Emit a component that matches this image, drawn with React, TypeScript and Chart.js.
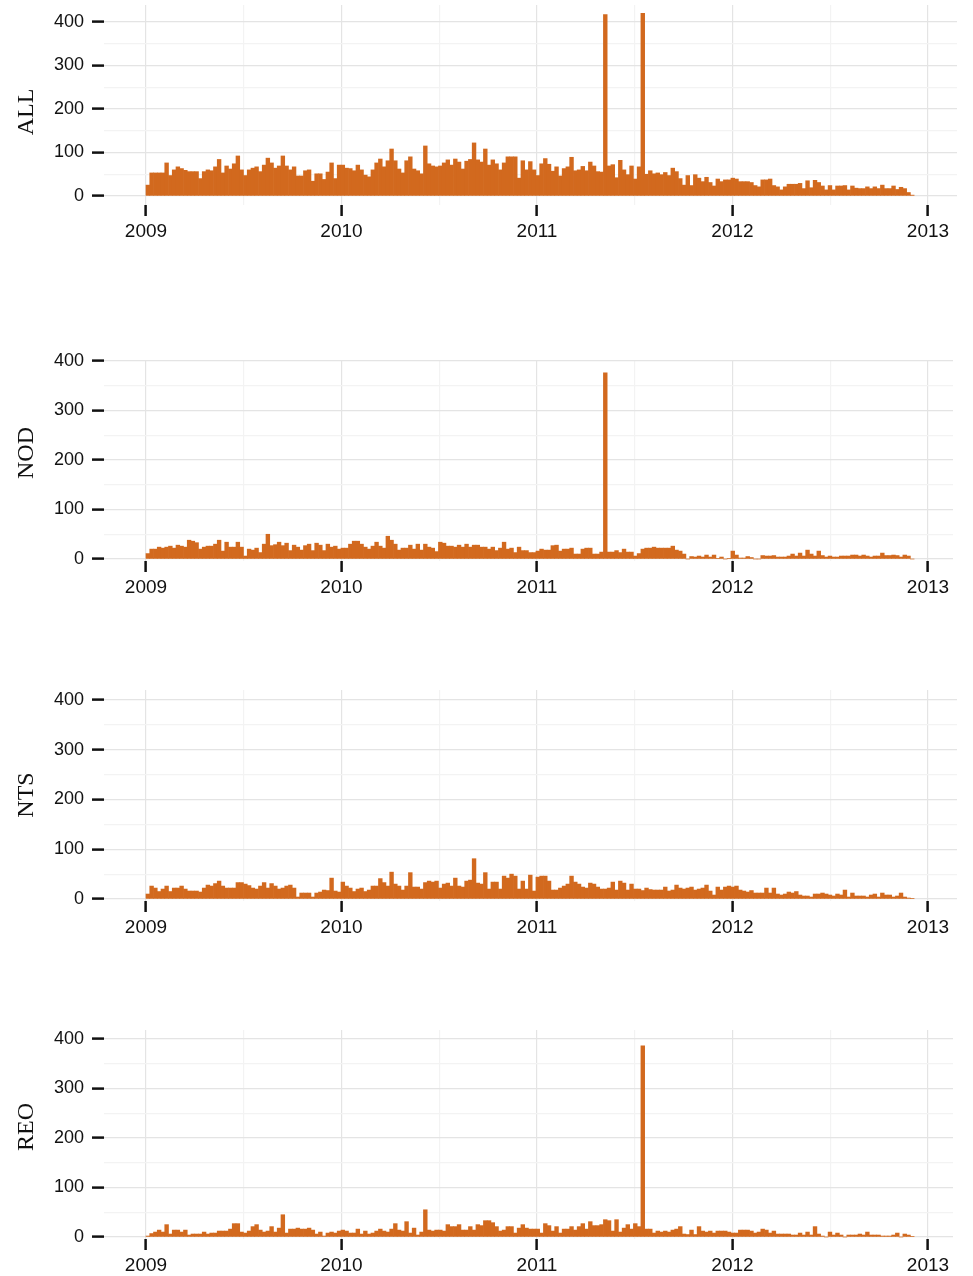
import React, { useEffect, useRef } from 'react';
import { Chart, registerables } from 'chart.js';

Chart.register(...registerables);

// ---------------- data ----------------
const firstWeekStart = '2009-01-01';
const binDays = 7;

const allCounts = [
  25, 53, 53, 53, 53, 76, 47, 60, 67, 63, 59, 56, 56, 56, 40, 56, 60, 58, 67, 84, 53, 69, 62, 74, 92, 60, 47, 60, 64, 67, 56, 71, 87, 76, 64, 69, 92, 69, 60, 67, 46, 46, 58, 60, 34, 51, 51, 38, 55, 76, 40, 71,
  71, 64, 63, 58, 71, 60, 48, 44, 60, 76, 85, 67, 81, 108, 81, 62, 53, 81, 90, 62, 58, 51, 115, 74, 69, 67, 69, 76, 83, 71, 85, 78, 62, 80, 84, 122, 83, 78, 108, 71, 83, 74, 60, 76, 90, 90, 90, 41,
  81, 60, 79, 60, 47, 74, 86, 73, 57, 67, 46, 63, 67, 89, 58, 60, 68, 58, 78, 69, 56, 55, 417, 69, 72, 42, 82, 60, 49, 69, 39, 67, 420, 50, 58, 51, 53, 49, 54, 47, 64, 56, 40, 25, 47, 24, 49, 41, 33, 43,
  31, 23, 39, 33, 37, 37, 41, 39, 33, 33, 33, 31, 24, 21, 37, 37, 39, 24, 21, 14, 21, 27, 27, 27, 29, 17, 35, 19, 36, 31, 23, 14, 24, 14, 23, 23, 24, 14, 23, 18, 17, 17, 21, 17, 21, 17, 25, 17, 17, 23,
  15, 20, 17, 8, 2,
];

const nodCounts = [
  11, 20, 20, 24, 22, 24, 26, 22, 28, 26, 24, 38, 36, 33, 20, 24, 26, 26, 30, 38, 16, 34, 24, 24, 34, 24, 6, 20, 18, 22,
  13, 30, 50, 27, 29, 34, 27, 32, 17, 28, 24, 18, 27, 30, 17, 32, 28, 17, 30, 24, 26, 20, 22, 22, 30, 36, 36, 30, 24, 20,
  26, 34, 26, 22, 46, 38, 30, 18, 22, 22, 28, 20, 30, 18, 30, 24, 22, 15, 34, 32, 26, 26, 24, 28, 24, 30, 24, 28, 28, 24,
  24, 20, 24, 17, 22, 34, 20, 22, 13, 24, 17, 17, 13, 13,
  16, 20, 18, 18, 27, 28, 16, 20, 20, 22, 10, 10, 20, 22, 22, 10, 10, 14,
  376,
  14, 14, 17, 13, 20, 14, 14, 6, 11, 20, 22, 22, 24, 22, 22, 22, 22, 26, 18, 16, 10, 0, 5, 4, 6, 4, 8, 4, 8, 1, 4, 0, 1,
  16, 8, 2, 2, 5, 3, 0, 0, 7, 6, 6, 7, 4, 4, 4, 6, 10, 6, 12, 6, 18, 10, 6, 16, 7, 4, 6, 4, 4, 6, 6, 6, 8, 8, 6, 8, 6, 4, 6, 6,
  12, 7, 7, 8, 7, 4, 8, 6, 0,
];

const ntsCounts = [
  10, 26, 22, 15, 20, 26, 15, 22, 22, 26, 20, 16, 16, 16, 14, 22, 28, 26, 31, 36, 26, 22, 22, 22, 33, 33, 30, 27, 22, 20,
  26, 33, 22, 31, 26, 20, 22, 26, 28, 22, 4, 12, 12, 12, 4, 12, 14, 18, 17, 42, 16, 14,
  34, 26, 22, 15, 20, 22, 15, 18, 26, 26, 41, 33, 26, 54, 30, 26, 18, 26, 53, 24, 24, 20, 33, 36, 34, 36, 22, 30, 32, 26,
  42, 26, 24, 36, 38, 81, 32, 30, 53, 20, 34, 34, 20, 46, 42, 50, 46, 20, 36, 20, 48, 16,
  44, 46, 46, 36, 18, 18, 22, 26, 30, 46, 34, 30, 24, 22, 32, 30, 24, 20, 20, 22, 34, 18, 36, 32, 18, 30, 20, 20, 17, 22, 19,
  18, 18, 18, 24, 16, 18, 28, 22, 20, 22, 24, 18, 20, 22, 28, 16, 8, 24, 18, 24, 26,
  24, 26, 18, 16, 14, 17, 12, 12, 12, 22, 12, 22, 10, 8, 10, 14, 12, 15, 8, 6, 6, 4, 10, 10, 12, 10, 8, 6, 10, 8, 18,
  4, 12, 6, 6, 6, 4, 8, 10, 4, 12, 8, 8, 4, 6, 12, 4, 2, 1,
];

const reoCounts = [
  2, 7, 10, 14, 10, 25, 6, 14, 14, 10, 14, 4, 6, 6, 6, 10, 6, 8, 8, 12, 12, 12, 16, 27, 27, 10, 8, 12, 21, 25,
  14, 10, 12, 21, 10, 18, 45, 8, 16, 16, 18, 16, 16, 18, 14, 6, 10, 2, 8, 10, 8, 12,
  14, 12, 8, 8, 16, 6, 12, 6, 8, 12, 16, 12, 10, 16, 27, 14, 12, 31, 8, 18, 4, 10, 55, 14, 12, 14, 14, 12, 25, 21,
  21, 25, 14, 14, 21, 14, 25, 23, 33, 33, 29, 21, 12, 14, 21, 21, 8, 18, 25, 18, 16, 16,
  16, 8, 27, 23, 12, 21, 8, 16, 16, 21, 14, 21, 27, 16, 31, 23, 23, 25, 35, 33, 12, 35, 10, 18, 25, 16, 27, 21,
  386,
  16, 16, 8, 12, 10, 12, 10, 14, 16, 21, 6, 5, 14, 5, 21, 12, 10, 12, 8, 12, 12, 12, 10,
  8, 8, 14, 14, 14, 12, 8, 10, 16, 14, 8, 12, 6, 6, 6, 6, 4, 4, 8, 4, 10, 4, 21, 6, 2, 0, 10, 4, 8, 4,
  0, 4, 4, 4, 6, 4, 10, 4, 4, 4, 2, 2, 2, 4, 8, 0, 6, 4, 1,
];

const panelLabels = ['ALL', 'NOD', 'NTS', 'REO'];
const xGridValues = [2009, 2009.5, 2010, 2010.5, 2011, 2011.5, 2012, 2012.5, 2013];
const yGridValues = [0, 50, 100, 150, 200, 250, 300, 350, 400];

// ---------------- styling ----------------
const BAR_COLOR = '#D2691E';
const MAJOR_GRID = '#E4E4E4';
const MINOR_GRID = '#F3F3F3';
const TICK_COLOR = '#111111';
const SANS = '"Liberation Sans", Arial, Helvetica, sans-serif';
const SERIF = '"Liberation Serif", "Times New Roman", serif';

// x pixel mapping: 2009 at 146px, 2013 at 928px
const PX_2009 = 146;
const PX_PER_YEAR = 195.5;

function toYearFraction(ms: number): number {
  const d = new Date(ms);
  const y = d.getUTCFullYear();
  const s = Date.UTC(y, 0, 1);
  const e = Date.UTC(y + 1, 0, 1);
  return y + (ms - s) / (e - s);
}

const startMs = Date.parse(firstWeekStart + 'T00:00:00Z');
function weekCenters(n: number): number[] {
  const out: number[] = [];
  for (let i = 0; i < n; i++) {
    out.push(toYearFraction(startMs + (i * binDays + binDays / 2) * 86400000));
  }
  return out;
}

type Layout = {
  canvasTop: number;
  canvasHeight: number;
  plotTop: number;
  plotBottom: number;
  plotLeft: number;
  plotRight: number;
  yMin: number;
  yMax: number;
  titleY: number;
};

const layouts: Layout[] = [
  { canvasTop: 0, canvasHeight: 250, plotTop: 5, plotBottom: 205, plotLeft: 104, plotRight: 957, yMin: -20.7, yMax: 439, titleY: 112 },
  { canvasTop: 340, canvasHeight: 260, plotTop: 360, plotBottom: 561, plotLeft: 104, plotRight: 953, yMin: -4, yMax: 402, titleY: 453 },
  { canvasTop: 680, canvasHeight: 260, plotTop: 690, plotBottom: 901, plotLeft: 104, plotRight: 957, yMin: -4, yMax: 420, titleY: 795 },
  { canvasTop: 1016, canvasHeight: 260, plotTop: 1030, plotBottom: 1239, plotLeft: 104, plotRight: 953, yMin: -4, yMax: 418, titleY: 1127 },
];

const sideTitlePlugin = {
  id: 'sideTitle',
  afterDraw(chart: any, _args: any, opts: any) {
    const ctx = chart.ctx;
    ctx.save();
    ctx.translate(opts.x, opts.y);
    ctx.rotate(-Math.PI / 2);
    ctx.font = `24px ${SERIF}`;
    ctx.fillStyle = '#111111';
    ctx.textAlign = 'center';
    ctx.textBaseline = 'middle';
    ctx.fillText(opts.text, 0, 0);
    ctx.restore();
  },
};

function Panel({ label, counts, layout }: { label: string; counts: number[]; layout: Layout }) {
  const ref = useRef<HTMLCanvasElement | null>(null);

  useEffect(() => {
    if (!ref.current) return;
    const xs = weekCenters(counts.length);
    const xMin = 2009 - (PX_2009 - layout.plotLeft) / PX_PER_YEAR;
    const xMax = 2009 + (layout.plotRight - PX_2009) / PX_PER_YEAR;
    const xAxisHeight = layout.canvasHeight - layout.plotBottom + layout.canvasTop;

    const chart = new Chart(ref.current, {
      type: 'bar',
      data: {
        datasets: [
          {
            label,
            data: counts.map((c, i) => ({ x: xs[i], y: c })),
            backgroundColor: BAR_COLOR,
            borderWidth: 0,
            barPercentage: 1,
            categoryPercentage: 1,
          },
        ],
      },
      plugins: [sideTitlePlugin],
      options: {
        animation: false,
        responsive: false,
        events: [],
        layout: {
          padding: {
            top: layout.plotTop - layout.canvasTop,
            right: 973 - layout.plotRight,
            left: 0,
            bottom: 0,
          },
        },
        plugins: {
          legend: { display: false },
          tooltip: { enabled: false },
          sideTitle: { text: label, x: 27, y: layout.titleY - layout.canvasTop },
        } as any,
        scales: {
          x: {
            type: 'linear',
            min: xMin,
            max: xMax,
            offset: false,
            afterBuildTicks: (s: any) => {
              s.ticks = xGridValues.map((v) => ({ value: v }));
            },
            afterFit: (s: any) => {
              s.height = xAxisHeight;
              s.paddingLeft = 0;
              s.paddingRight = 0;
            },
            border: { display: false },
            grid: {
              offset: false,
              lineWidth: 1.2,
              color: (ctx: any) => (Number.isInteger(ctx.tick?.value) ? MAJOR_GRID : MINOR_GRID),
              tickLength: 11,
              tickWidth: 2.5,
              tickColor: (ctx: any) => (Number.isInteger(ctx.tick?.value) ? TICK_COLOR : 'rgba(0,0,0,0)'),
            },
            ticks: {
              autoSkip: false,
              maxRotation: 0,
              minRotation: 0,
              padding: 4,
              color: TICK_COLOR,
              font: { family: SANS, size: 19 },
              callback: (v: any) => (Number.isInteger(v) ? String(v) : ''),
            },
          },
          y: {
            type: 'linear',
            min: layout.yMin,
            max: layout.yMax,
            afterBuildTicks: (s: any) => {
              s.ticks = yGridValues.map((v) => ({ value: v }));
            },
            afterFit: (s: any) => {
              s.width = layout.plotLeft;
              s.paddingTop = 0;
              s.paddingBottom = 0;
            },
            border: { display: false },
            grid: {
              lineWidth: 1.2,
              color: (ctx: any) => (ctx.tick && ctx.tick.value % 100 === 0 ? MAJOR_GRID : MINOR_GRID),
              tickLength: 12,
              tickWidth: 2.5,
              tickColor: (ctx: any) => (ctx.tick && ctx.tick.value % 100 === 0 ? TICK_COLOR : 'rgba(0,0,0,0)'),
            },
            ticks: {
              autoSkip: false,
              padding: 8,
              color: TICK_COLOR,
              font: { family: SANS, size: 18 },
              callback: (v: any) => (v % 100 === 0 ? String(v) : ''),
            },
          },
        },
      } as any,
    });
    return () => chart.destroy();
  }, [label, counts, layout]);

  return (
    <div style={{ position: 'absolute', left: 0, top: layout.canvasTop, width: 973, height: layout.canvasHeight }}>
      <canvas ref={ref} width={973} height={layout.canvasHeight} style={{ display: 'block' }} />
    </div>
  );
}

const seriesList = [allCounts, nodCounts, ntsCounts, reoCounts];

export default function App() {
  return (
    <div style={{ position: 'absolute', left: 0, top: 0, width: 973, height: 1276, background: '#ffffff', overflow: 'hidden' }}>
      {panelLabels.map((lab, i) => (
        <Panel key={lab} label={lab} counts={seriesList[i]} layout={layouts[i]} />
      ))}
    </div>
  );
}
